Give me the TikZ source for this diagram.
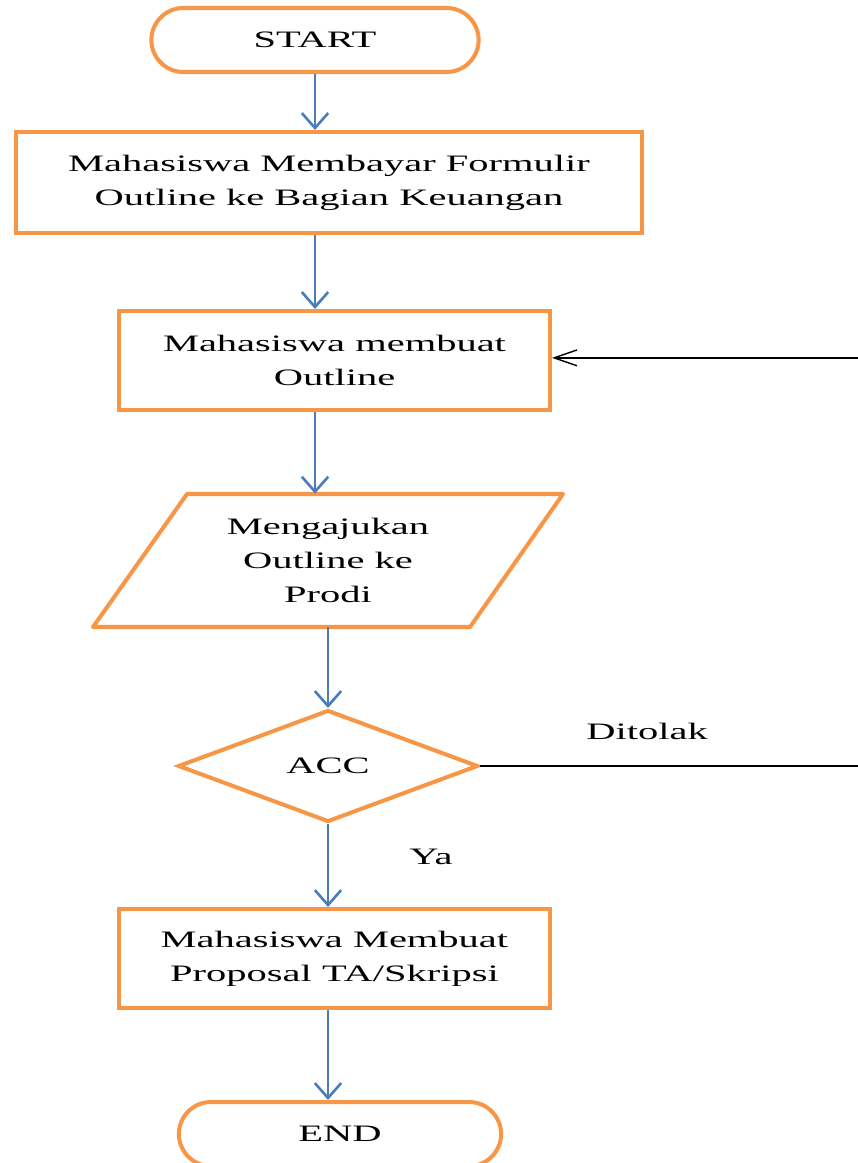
\documentclass[tikz,border=0pt]{standalone}
\usepackage{fontspec}
\setmainfont[FakeStretch=1.72]{Liberation Serif}
\usepackage{tikz}
\usepackage{xcolor}
\usetikzlibrary{shapes.geometric,shapes.misc,arrows.meta}
\definecolor{frameor}{HTML}{F79646}
\definecolor{flowbl}{HTML}{4A7EBB}

\begin{document}
\begin{tikzpicture}[x=0.02cm,y=-0.02cm]%
  \tikzstyle{every node}=[font=\fontsize{13.4}{19.3}\selectfont,align=center]
  \tikzstyle{boxn}=[rectangle,draw=frameor,line width=2.3pt,inner sep=0]
  \tikzstyle{termn}=[rounded rectangle,draw=frameor,line width=2.3pt,minimum width=6.78cm,minimum height=1.28cm]
  \tikzstyle{ion}=[rectangle,inner sep=0,minimum width=6cm,minimum height=2.66cm]
  \tikzstyle{ioline}=[draw=frameor,line width=2.3pt,line join=round]
  \tikzstyle{decn}=[diamond,aspect=2.68,draw=frameor,line width=2.3pt,minimum width=6cm,minimum height=2.24cm,inner sep=0]
  \tikzstyle{flow}=[draw=flowbl,line width=1.5pt,-{Straight Barb[length=8.5pt,width=15pt]}]
  \tikzstyle{back}=[draw=black,line width=0.8pt]
  \useasboundingbox (0,0) rectangle (858,1163);
  \clip (0,0) rectangle (858,1163);
  % shapes
  \node(start)[termn] at (315,40) {START};
  \node(b1)[boxn,minimum width=12.52cm,minimum height=2.02cm] at (329,182.5)
    {Mahasiswa Membayar Formulir\\Outline ke Bagian Keuangan};
  \node(b2)[boxn,minimum width=8.62cm,minimum height=1.98cm] at (334.5,360.5)
    {Mahasiswa membuat\\Outline};
  \draw[ioline] (187,494) -- (563,494) -- (470,627) -- (93,627) -- cycle;
  \node(in)[ion] at (328,560.5) {Mengajukan\\Outline ke\\Prodi};
  \node(acc)[decn] at (328,766) {ACC};
  \node(b3)[boxn,minimum width=8.62cm,minimum height=1.98cm] at (334.5,958.5)
    {Mahasiswa Membuat\\Proposal TA/Skripsi};
  \node(stop)[termn,minimum width=6.68cm] at (340,1134) {END};
  \coordinate(edge) at (862,560);
  % arrows
  \draw[flow] (start.south) -- (start.south |- b1.north);
  \draw[flow] (b1.south -| start) -- (start |- b2.north);
  \draw[flow] (b2.south -| start) -- (start |- in.north);
  \draw[flow] (in.south -| acc) -- (acc.north);
  \draw[flow] (acc.south) -- (acc.south |- b3.north);
  \draw[flow] (b3.south -| acc) -- (acc |- stop.north);
  \draw[back,-{Straight Barb[length=13pt,width=9pt]}] (acc.east) -- (acc.east -| edge) |- ([yshift=1.5pt]b2.east);
  \node(no) at (647,731) {Ditolak};
  \node(yes) at (431,857) {Ya};
\end{tikzpicture}
\end{document}
